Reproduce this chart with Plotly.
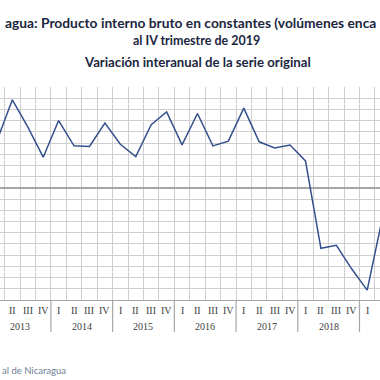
import plotly.graph_objects as go

# Data: year-on-year variation, quarterly (2013 Q1 .. 2019 Q2)
years = [2013, 2014, 2015, 2016, 2017, 2018, 2019]
quarter_labels = ["I", "II", "III", "IV"]
values = [4.2, 7.86, 5.45, 2.74,
          6.01, 3.75, 3.69, 5.78,
          3.89, 2.80, 5.63, 6.77,
          3.84, 6.64, 3.75, 4.17,
          7.12, 4.11, 3.57, 3.82,
          2.41, -5.39, -5.12, -7.24,
          -9.12, -2.59]

title1 = "agua: Producto interno bruto en constantes (volúmenes enca"
title2 = "al IV trimestre de 2019"
title3 = "Variación interanual de la serie original"
source = "al de Nicaragua"

idx = list(range(len(values)))
x_range = [0.2, 24.83]

fig = go.Figure()
fig.add_trace(go.Scatter(x=idx, y=values, mode="lines",
                         line=dict(color="#34508c", width=1.5),
                         showlegend=False, hoverinfo="skip"))

grid_vals = [i + 0.5 for i in range(-1, len(values) + 1)]

annotations = []
ann_font_q = dict(family="Liberation Serif", size=10, color="#404040")
for i in idx:
    if x_range[0] <= i <= x_range[1]:
        annotations.append(dict(x=i, y=0, xref="x", yref="paper",
                                text=quarter_labels[i % 4], showarrow=False,
                                yanchor="middle", yshift=-10, font=ann_font_q))
shapes = []
for k, yr in enumerate(years):
    center = 4 * k + 1.5
    if center + 0.5 <= x_range[1]:
        annotations.append(dict(x=center, y=0, xref="x", yref="paper",
                                text=str(yr), showarrow=False,
                                yanchor="middle", yshift=-26, font=ann_font_q))
    sep = 4 * k + 3.5
    if x_range[0] <= sep <= x_range[1]:
        shapes.append(dict(type="line", xref="x", yref="paper",
                           x0=sep, x1=sep, y0=0, y1=-0.15,
                           line=dict(color="#a6a6a6", width=1.2)))

tcolor = "#1b2640"
annotations += [
    dict(x=0.5, y=1, xref="paper", yref="paper", text="<b>%s</b>" % title1,
         showarrow=False, yanchor="middle", yshift=65,
         font=dict(family="Lato", size=13.8, color=tcolor)),
    dict(x=0.518, y=1, xref="paper", yref="paper", text="<b>%s</b>" % title2,
         showarrow=False, yanchor="middle", yshift=46.5,
         font=dict(family="Lato", size=12.5, color=tcolor)),
    dict(x=0.52, y=1, xref="paper", yref="paper", text="<b>%s</b>" % title3,
         showarrow=False, yanchor="middle", yshift=25,
         font=dict(family="Lato", size=13.2, color=tcolor)),
    dict(x=0, y=0, xref="paper", yref="paper", text=source, xanchor="left",
         showarrow=False, yanchor="middle", yshift=-70,
         font=dict(family="Lato", size=9.5, color="#6d7e94")),
]

fig.update_layout(
    width=380, height=380,
    margin=dict(l=0, r=0, t=87, b=80),
    paper_bgcolor="white", plot_bgcolor="white",
    xaxis=dict(range=x_range, tickvals=grid_vals, showticklabels=False,
               showgrid=True, gridcolor="#cfcfcf", gridwidth=1,
               showline=True, linecolor="#a6a6a6", linewidth=1.2,
               zeroline=False, ticks=""),
    yaxis=dict(range=[-10, 9], dtick=1, showticklabels=False,
               showgrid=True, gridcolor="#cfcfcf", gridwidth=1,
               zeroline=True, zerolinecolor="#a6a6a6", zerolinewidth=1.5,
               ticks=""),
    annotations=annotations, shapes=shapes,
)
fig.write_html("out.html",
               config={"displayModeBar": False},
               post_script="document.body.style.margin='0';"
                           "document.body.style.overflow='hidden';")
